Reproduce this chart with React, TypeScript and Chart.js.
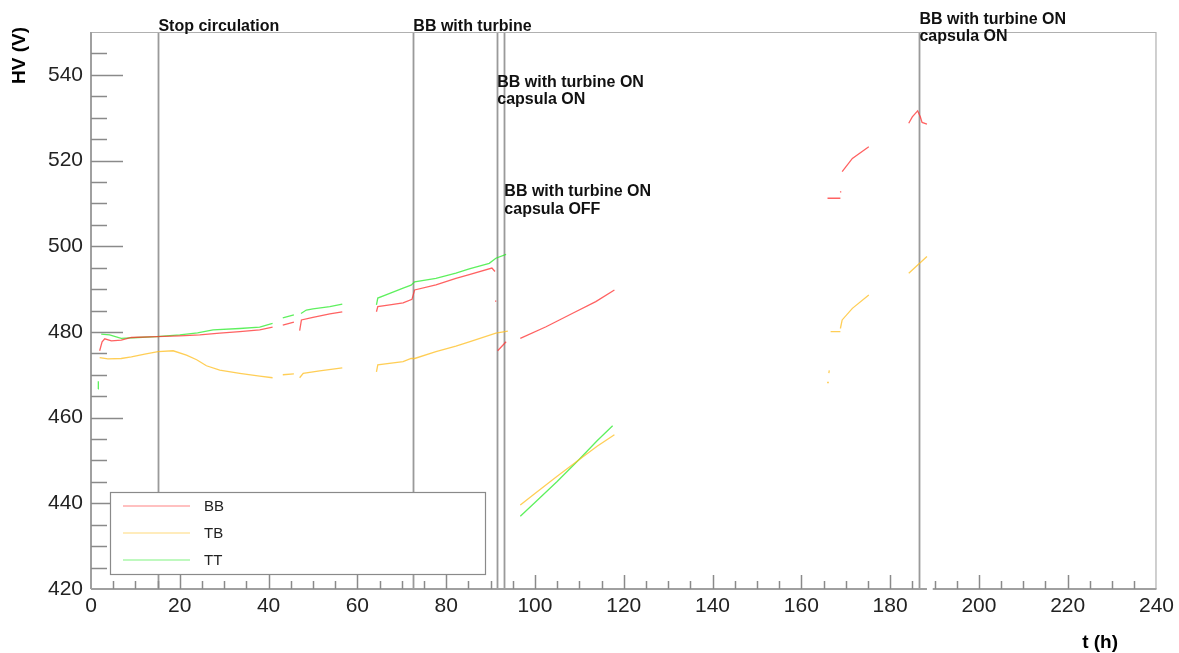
import React, { useEffect, useRef } from "react";
import { Chart, registerables } from "chart.js";

Chart.register(...registerables);

// ---- axis ranges and tick labels ----
const X_MIN = 0;
const X_MAX = 240;
const Y_MIN = 420;
const Y_MAX = 550;
const xTickValues = [0, 20, 40, 60, 80, 100, 120, 140, 160, 180, 200, 220, 240];
const yTickValues = [420, 440, 460, 480, 500, 520, 540];

const seriesNames = ["BB", "TB", "TT"];

// ---- BB (red) : time (h) and HV (V); null = gap ----
const bbT = [
  1.95, 2.5, 3.1, 4.6, 6.8, 9.1, 14.8, 20, 24.5, 29, 33.5, 38, 40.9, null,
  43.2, 45.7, null,
  47.0, 47.4, 50, 53.8, 56.6, null,
  64.3, 64.6, 67.3, 70.3, 72.3, 72.9, 77.7, 82.2, 85.2, 90.3, 91.0, null,
  91.0, 91.3, null,
  91.6, 93.5, null,
  96.7, 102.5, 108.5, 113.7, 117.9, null,
  165.9, 168.8, null,
  168.7, 169.0, null,
  169.2, 171.5, 175.2, null,
  184.2, 185.0, 186.2, 186.8, 187.2, 188.3,
];
const bbV = [
  475.6, 477.7, 478.4, 477.9, 478.1, 478.7, 478.9, 479.1, 479.3, 479.7, 480.05, 480.5, 481.1, null,
  481.6, 482.3, null,
  480.3, 482.8, 483.4, 484.2, 484.7, null,
  484.7, 485.9, 486.3, 486.8, 487.6, 489.8, 490.96, 492.5, 493.4, 494.9, 494.1, null,
  487.2, 487.2, null,
  475.6, 477.7, null,
  478.5, 481.2, 484.35, 487.06, 489.8, null,
  511.2, 511.2, null,
  512.7, 512.7, null,
  517.4, 520.5, 523.2, null,
  528.7, 530.2, 531.6, 530.2, 528.9, 528.5,
];

// ---- TB (orange) ----
const tbT = [
  1.95, 3.8, 6.8, 9.1, 12.1, 15.1, 18.5, 21.5, 23.8, 26, 29, 33.5, 38, 40.9, null,
  43.2, 45.7, null,
  47.0, 47.8, 51.5, 56.6, null,
  64.3, 64.6, 70.3, 72.1, 72.9, 77.7, 82.2, 85.2, 91.2, 93.9, null,
  96.7, 100, 105, 110, 114, 117.9, null,
  165.8, 166.2, null,
  166.2, 166.3, null,
  166.6, 168.8, null,
  168.8, 169.2, 171.5, 175.2, null,
  184.2, 188.3,
];
const tbV = [
  474.0, 473.7, 473.8, 474.2, 474.8, 475.4, 475.6, 474.6, 473.5, 472.1, 471.1, 470.35, 469.7, 469.3, null,
  470.0, 470.2, null,
  469.3, 470.35, 470.9, 471.6, null,
  470.7, 472.3, 473.05, 473.8, 473.8, 475.4, 476.7, 477.7, 479.7, 480.2, null,
  439.6, 442.3, 446.3, 450.2, 453.3, 456.0, null,
  468.2, 468.2, null,
  470.4, 471.0, null,
  480.05, 480.05, null,
  480.8, 482.8, 485.5, 488.6, null,
  493.7, 497.6,
];

// ---- TT (green) ----
const ttT = [
  1.6, 1.65, null,
  2.3, 4.2, 6.8, 10.6, 14.8, 20, 24, 27.5, 33.5, 38, 40.9, null,
  43.2, 45.7, null,
  47.3, 48.5, 50, 53.8, 56.6, null,
  64.3, 64.6, 67.3, 70.3, 72.1, 72.9, 77.7, 82.2, 85.2, 89.7, 91.2, 93.5, null,
  96.7, 100, 105, 110, 114, 117.5,
];
const ttV = [
  466.7, 468.5, null,
  479.5, 479.3, 478.5, 478.7, 478.9, 479.3, 479.8, 480.5, 480.8, 481.1, 482.0, null,
  483.3, 484.0, null,
  484.3, 485.1, 485.4, 485.9, 486.5, null,
  486.3, 487.9, 489.0, 490.2, 490.9, 491.7, 492.5, 493.7, 494.7, 496.0, 497.2, 498.1, null,
  437.0, 440.2, 445.1, 450.3, 454.6, 458.1,
];

// ---- vertical markers and their notes ----
const markerT = [15.07, 72.5, 91.4, 93.0, 186.5];
const noteV = [550.2, 550.2, 537.2, 511.7, 551.9];
const noteText = [
  ["Stop circulation"],
  ["BB with turbine"],
  ["BB with turbine ON", "capsula ON"],
  ["BB with turbine ON", "capsula OFF"],
  ["BB with turbine ON", "capsula ON"],
];

const FONT = "'Liberation Sans', Arial, Helvetica, sans-serif";
const AXIS_COLOR = "#a0a0a0";
const TICK_COLOR = "#8a8a8a";

function toPoints(t: (number | null)[], v: (number | null)[]) {
  const pts: { x: number; y: number | null }[] = [];
  let last = 0;
  for (let i = 0; i < t.length; i++) {
    if (t[i] === null || v[i] === null) {
      pts.push({ x: last, y: null });
    } else {
      last = t[i] as number;
      pts.push({ x: last, y: v[i] as number });
    }
  }
  return pts;
}

const decorPlugin = {
  id: "decor",
  beforeDatasetsDraw(chart: any) {
    const { ctx, chartArea, scales } = chart;
    const xs = scales.x;
    ctx.save();
    ctx.strokeStyle = "#9a9a9a";
    ctx.lineWidth = 1.8;
    for (const t of markerT) {
      const px = Math.round(xs.getPixelForValue(t)) + 0.5;
      ctx.beginPath();
      ctx.moveTo(px, chartArea.top);
      ctx.lineTo(px, chartArea.bottom);
      ctx.stroke();
    }
    ctx.restore();
  },
  afterDraw(chart: any) {
    const { ctx, chartArea, scales } = chart;
    const xs = scales.x;
    const ys = scales.y;
    const { left, right, top, bottom } = chartArea;
    ctx.save();

    // frame (top & right)
    ctx.strokeStyle = "#b0b0b0";
    ctx.lineWidth = 1.2;
    ctx.beginPath();
    ctx.moveTo(left, top + 0.5);
    ctx.lineTo(right, top + 0.5);
    ctx.moveTo(right - 0.5, top);
    ctx.lineTo(right - 0.5, bottom);
    ctx.stroke();

    // axes (left & bottom, bottom with a small break)
    ctx.strokeStyle = AXIS_COLOR;
    ctx.lineWidth = 2;
    ctx.beginPath();
    ctx.moveTo(left, top);
    ctx.lineTo(left, bottom);
    ctx.moveTo(left, bottom);
    ctx.lineTo(xs.getPixelForValue(188.3), bottom);
    ctx.moveTo(xs.getPixelForValue(189.6), bottom);
    ctx.lineTo(right, bottom);
    ctx.stroke();

    // inner ticks
    ctx.strokeStyle = TICK_COLOR;
    ctx.lineWidth = 1.5;
    ctx.beginPath();
    for (let v = X_MIN + 5; v < X_MAX; v += 5) {
      const px = Math.round(xs.getPixelForValue(v)) + 0.5;
      const len = v % 20 === 0 ? 14 : 8;
      ctx.moveTo(px, bottom);
      ctx.lineTo(px, bottom - len);
    }
    for (let v = Y_MIN + 5; v < Y_MAX; v += 5) {
      const py = Math.round(ys.getPixelForValue(v)) + 0.5;
      const len = v % 20 === 0 ? 32 : 16;
      ctx.moveTo(left, py);
      ctx.lineTo(left + len, py);
    }
    ctx.stroke();

    // notes
    ctx.fillStyle = "#111";
    ctx.font = `bold 16px ${FONT}`;
    ctx.textAlign = "left";
    ctx.textBaseline = "alphabetic";
    noteText.forEach((lines, i) => {
      const x = xs.getPixelForValue(markerT[i]) + 0.5;
      const y0 = ys.getPixelForValue(noteV[i]);
      lines.forEach((ln, j) => ctx.fillText(ln, x, y0 + j * 17.5));
    });

    // axis titles
    ctx.font = `bold 19px ${FONT}`;
    ctx.fillStyle = "#000";
    ctx.save();
    ctx.translate(19.5, top - 5);
    ctx.rotate(-Math.PI / 2);
    ctx.textAlign = "right";
    ctx.textBaseline = "middle";
    ctx.fillText("HV (V)", 0, 0);
    ctx.restore();
    ctx.textAlign = "right";
    ctx.textBaseline = "alphabetic";
    ctx.fillText("t (h)", 1118, 648);

    // legend
    const lx = left + 19;
    const ly = top + 460;
    const lw = 375;
    const lh = 82;
    ctx.fillStyle = "#fff";
    ctx.fillRect(lx, ly, lw, lh);
    ctx.strokeStyle = "#8a8a8a";
    ctx.lineWidth = 1.2;
    ctx.strokeRect(lx + 0.5, ly + 0.5, lw, lh);
    ctx.font = `15px ${FONT}`;
    ctx.textAlign = "left";
    ctx.textBaseline = "middle";
    chart.data.datasets.forEach((ds: any, i: number) => {
      const yy = ly + 14 + i * 27;
      ctx.save();
      ctx.globalAlpha = 0.4;
      ctx.strokeStyle = ds.borderColor;
      ctx.lineWidth = 2;
      ctx.beginPath();
      ctx.moveTo(lx + 13, yy);
      ctx.lineTo(lx + 80, yy);
      ctx.stroke();
      ctx.restore();
      ctx.fillStyle = "#222";
      ctx.fillText(ds.label, lx + 94, yy + 1);
    });

    ctx.restore();
  },
};

export default function App() {
  const canvasRef = useRef<HTMLCanvasElement | null>(null);

  useEffect(() => {
    const canvas = canvasRef.current;
    if (!canvas) return;
    const colors = ["rgba(255,45,45,0.75)", "rgba(255,190,30,0.75)", "rgba(40,235,40,0.75)"];
    const series = [
      toPoints(bbT, bbV),
      toPoints(tbT, tbV),
      toPoints(ttT, ttV),
    ];
    const chart = new Chart(canvas, {
      type: "line",
      data: {
        datasets: series.map((pts, i) => ({
          label: seriesNames[i],
          data: pts,
          borderColor: colors[i],
          backgroundColor: colors[i],
          borderWidth: 1.3,
          pointRadius: 0,
          tension: 0,
          spanGaps: false,
          fill: false,
        })),
      },
      options: {
        animation: false,
        responsive: false,
        events: [],
        layout: { padding: { top: 32, right: 21, left: 0, bottom: 0 } },
        plugins: {
          legend: { display: false },
          tooltip: { enabled: false },
        },
        scales: {
          x: {
            type: "linear",
            min: X_MIN,
            max: X_MAX,
            afterBuildTicks: (s: any) => {
              s.ticks = xTickValues.map((v) => ({ value: v }));
            },
            afterFit: (s: any) => {
              s.height = 64;
            },
            grid: { display: false, drawTicks: false },
            border: { display: false },
            ticks: {
              autoSkip: false,
              maxRotation: 0,
              padding: 5,
              color: "#222",
              font: { family: FONT, size: 21 },
            },
          },
          y: {
            type: "linear",
            min: Y_MIN,
            max: Y_MAX,
            afterBuildTicks: (s: any) => {
              s.ticks = yTickValues.map((v) => ({ value: v }));
            },
            afterFit: (s: any) => {
              s.width = 91;
            },
            grid: { display: false, drawTicks: false },
            border: { display: false },
            ticks: {
              padding: 8,
              color: "#222",
              font: { family: FONT, size: 21 },
            },
          },
        },
      },
      plugins: [decorPlugin],
    });
    return () => chart.destroy();
  }, []);

  return (
    <div
      style={{
        position: "fixed",
        left: 0,
        top: 0,
        width: 1179,
        height: 653,
        background: "#fff",
      }}
    >
      <canvas ref={canvasRef} width={1179} height={653} style={{ display: "block" }} />
    </div>
  );
}
